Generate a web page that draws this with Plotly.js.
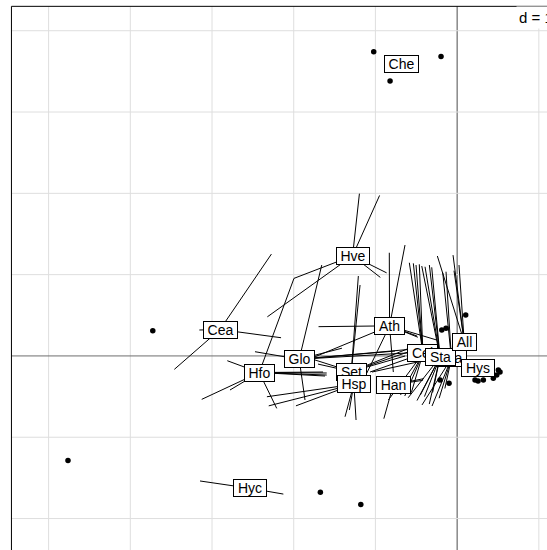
<!DOCTYPE html>
<html><head><meta charset="utf-8">
<script src="https://cdn.plot.ly/plotly-3.0.1.min.js"></script>
<style>html,body{margin:0;padding:0;background:#fff}</style>
</head><body><div id="plot" style="width:547px;height:550px"></div>
<script>
// class labels (drawing order) and their centroids
const classNames = ['Che','Hve','Cea','Ath','Glo','Hfo','Set','Hsp','Han','Cel','Gla','Sta','All','Hys','Hyc'];
const classX = [-0.678,-1.280,-2.902,-0.827,-1.933,-2.422,-1.295,-1.264,-0.781,-0.418,-0.070,-0.209,0.087,0.250,-2.535];
const classY = [3.597,1.231,0.325,0.370,-0.041,-0.204,-0.192,-0.348,-0.354,0.032,-0.030,-0.014,0.171,-0.149,-1.628];

// star segments: class of each row and the row's coordinates
const starClass = [
 'Cea','Cea','Cea','Cea',
 'Hve','Hve','Hve','Hve','Hve','Hve',
 'Hfo','Hfo','Hfo','Hfo','Hfo','Hfo','Hfo','Hfo','Hfo',
 'Glo','Glo','Glo','Glo','Glo','Glo','Glo',
 'Ath','Ath','Ath','Ath','Ath','Ath','Ath','Ath','Ath',
 'Set','Set','Set','Set','Set','Set','Set',
 'Hsp','Hsp','Hsp','Hsp','Hsp','Hsp',
 'Han','Han','Han',
 'Cel','Cel','Cel','Cel','Cel','Cel','Cel','Cel','Cel',
 'Sta','Sta','Sta','Sta','Sta','Sta','Sta','Sta','Sta','Sta','Sta',
 'Gla','Gla','Gla','Gla','Gla','Gla',
 'All','All','All','All',
 'Hyc','Hyc'
];
const starX = [
 -2.273,-3.461,-2.155,-3.155,
 -1.196,-0.949,-1.997,-2.323,-0.863,-0.940,
 -1.997,-2.208,-2.813,-3.126,-2.780,-1.596,-1.596,-1.617,-1.641,
 -1.657,-1.862,-2.474,-1.410,-0.601,-0.614,-0.760,
 -0.830,-0.638,-1.696,-1.739,-1.107,-0.781,-0.491,-0.480,-0.250,
 -1.209,-1.188,-1.776,-1.703,-0.601,-0.638,-0.552,
 -1.372,-1.237,-1.319,-2.328,-2.306,-1.973,
 -0.897,-0.406,-0.420,
 -0.585,-0.536,-0.503,-0.463,-0.641,-0.693,-1.066,-0.842,-0.560,
 -0.433,-0.393,-0.340,-0.311,-0.599,-0.491,-0.341,-1.042,-0.450,-0.400,-0.300,
 -0.176,-0.136,-0.307,-0.430,-0.220,-0.150,
 -0.242,-0.038,0.023,-0.050,
 -3.147,-2.127
];
const starY = [
 1.253,-0.165,0.224,0.319,
 1.996,1.974,0.954,0.481,1.022,0.966,
 0.954,-0.645,-0.059,-0.534,-0.419,-0.210,-0.235,-0.247,-0.198,
 1.118,-0.542,0.052,0.095,0.079,0.036,0.060,
 1.269,1.364,0.360,-0.010,-0.214,-0.198,0.245,0.230,0.196,
 0.983,0.872,-0.038,-0.100,0.048,-0.001,0.109,
 -0.748,-0.788,-0.665,-0.502,-0.614,-0.614,
 -0.772,-0.279,-0.300,
 1.146,1.139,1.118,1.127,-0.493,-0.481,-0.198,-0.542,-0.450,
 1.106,1.097,1.118,1.090,-0.514,-0.549,-0.592,-0.198,-0.480,-0.500,-0.450,
 1.023,1.036,-0.616,-0.603,-0.520,-0.400,
 1.229,1.048,1.118,1.240,
 -1.538,-1.699
];

// isolated points
const pointX = [-3.725,-4.763,-1.674,-1.179,-1.021,-0.197,-0.821,0.105,-0.188,-0.136,-0.209,-0.099,0.219,0.256,0.321,0.443,0.504,0.525,0.485];
const pointY = [0.309,-1.287,-1.678,-1.828,3.743,3.683,3.381,0.503,0.319,0.339,-0.296,-0.337,-0.296,-0.309,-0.296,-0.276,-0.173,-0.198,-0.235];

const gridX = [-5,-4,-3,-2,-1,0,1];
const gridY = [-2,-1,0,1,2,3,4];
const scaleLabel = 'd = 1';

// ---------- build ----------
const FONT = 'Liberation Sans, Arial, sans-serif';
const xr = [-5.595, 1.100], yr = [-2.387, 4.378];
const box = {x0: -5.455, x1: 1.5, y0: -2.6, y1: 4.300};

const lx = [], ly = [];
starClass.forEach((c, i) => {
  const k = classNames.indexOf(c);
  lx.push(classX[k], starX[i], null);
  ly.push(classY[k], starY[i], null);
});

const traces = [
  {x: lx, y: ly, mode: 'lines', type: 'scatter', line: {color: '#000', width: 1}, hoverinfo: 'skip'},
  {x: pointX, y: pointY, mode: 'markers', type: 'scatter', marker: {color: '#000', size: 5.5}, hoverinfo: 'skip'}
];

const shapes = [];
gridX.forEach(g => shapes.push({type: 'line', x0: g, x1: g, y0: box.y0, y1: box.y1, line: {color: g === 0 ? '#4d4d4d' : '#dedede', width: 1}, layer: 'below'}));
gridY.forEach(g => shapes.push({type: 'line', x0: box.x0, x1: box.x1, y0: g, y1: g, line: {color: g === 0 ? '#6e6e6e' : '#dedede', width: 1}, layer: 'below'}));
shapes.push({type: 'rect', x0: box.x0, x1: box.x1, y0: box.y0, y1: box.y1, line: {color: '#000', width: 1}, layer: 'above'});

const ctx = document.createElement('canvas').getContext('2d');
ctx.font = '14px "Liberation Sans", Arial, sans-serif';
const annotations = classNames.map((c, k) => ({
  x: classX[k], y: classY[k], xref: 'x', yref: 'y', text: c, showarrow: false,
  font: {family: FONT, size: 14, color: '#000'},
  bgcolor: '#fff', bordercolor: '#000', borderwidth: 1, borderpad: 0,
  width: Math.round(ctx.measureText(c).width + 7.5), height: 16,
  xanchor: 'center', yanchor: 'middle'
}));
annotations.push({
  x: 0.715, y: box.y1, xref: 'x', yref: 'y', text: scaleLabel, showarrow: false,
  font: {family: FONT, size: 15, color: '#000'}, bgcolor: '#fff', borderpad: 2,
  xanchor: 'left', yanchor: 'top'
});

Plotly.newPlot('plot', traces, {
  width: 547, height: 550, margin: {l: 0, r: 0, t: 0, b: 0},
  paper_bgcolor: '#fff', plot_bgcolor: '#fff', showlegend: false,
  xaxis: {range: xr, visible: false, fixedrange: true},
  yaxis: {range: yr, visible: false, fixedrange: true},
  shapes: shapes, annotations: annotations
}, {staticPlot: true});
</script></body></html>
